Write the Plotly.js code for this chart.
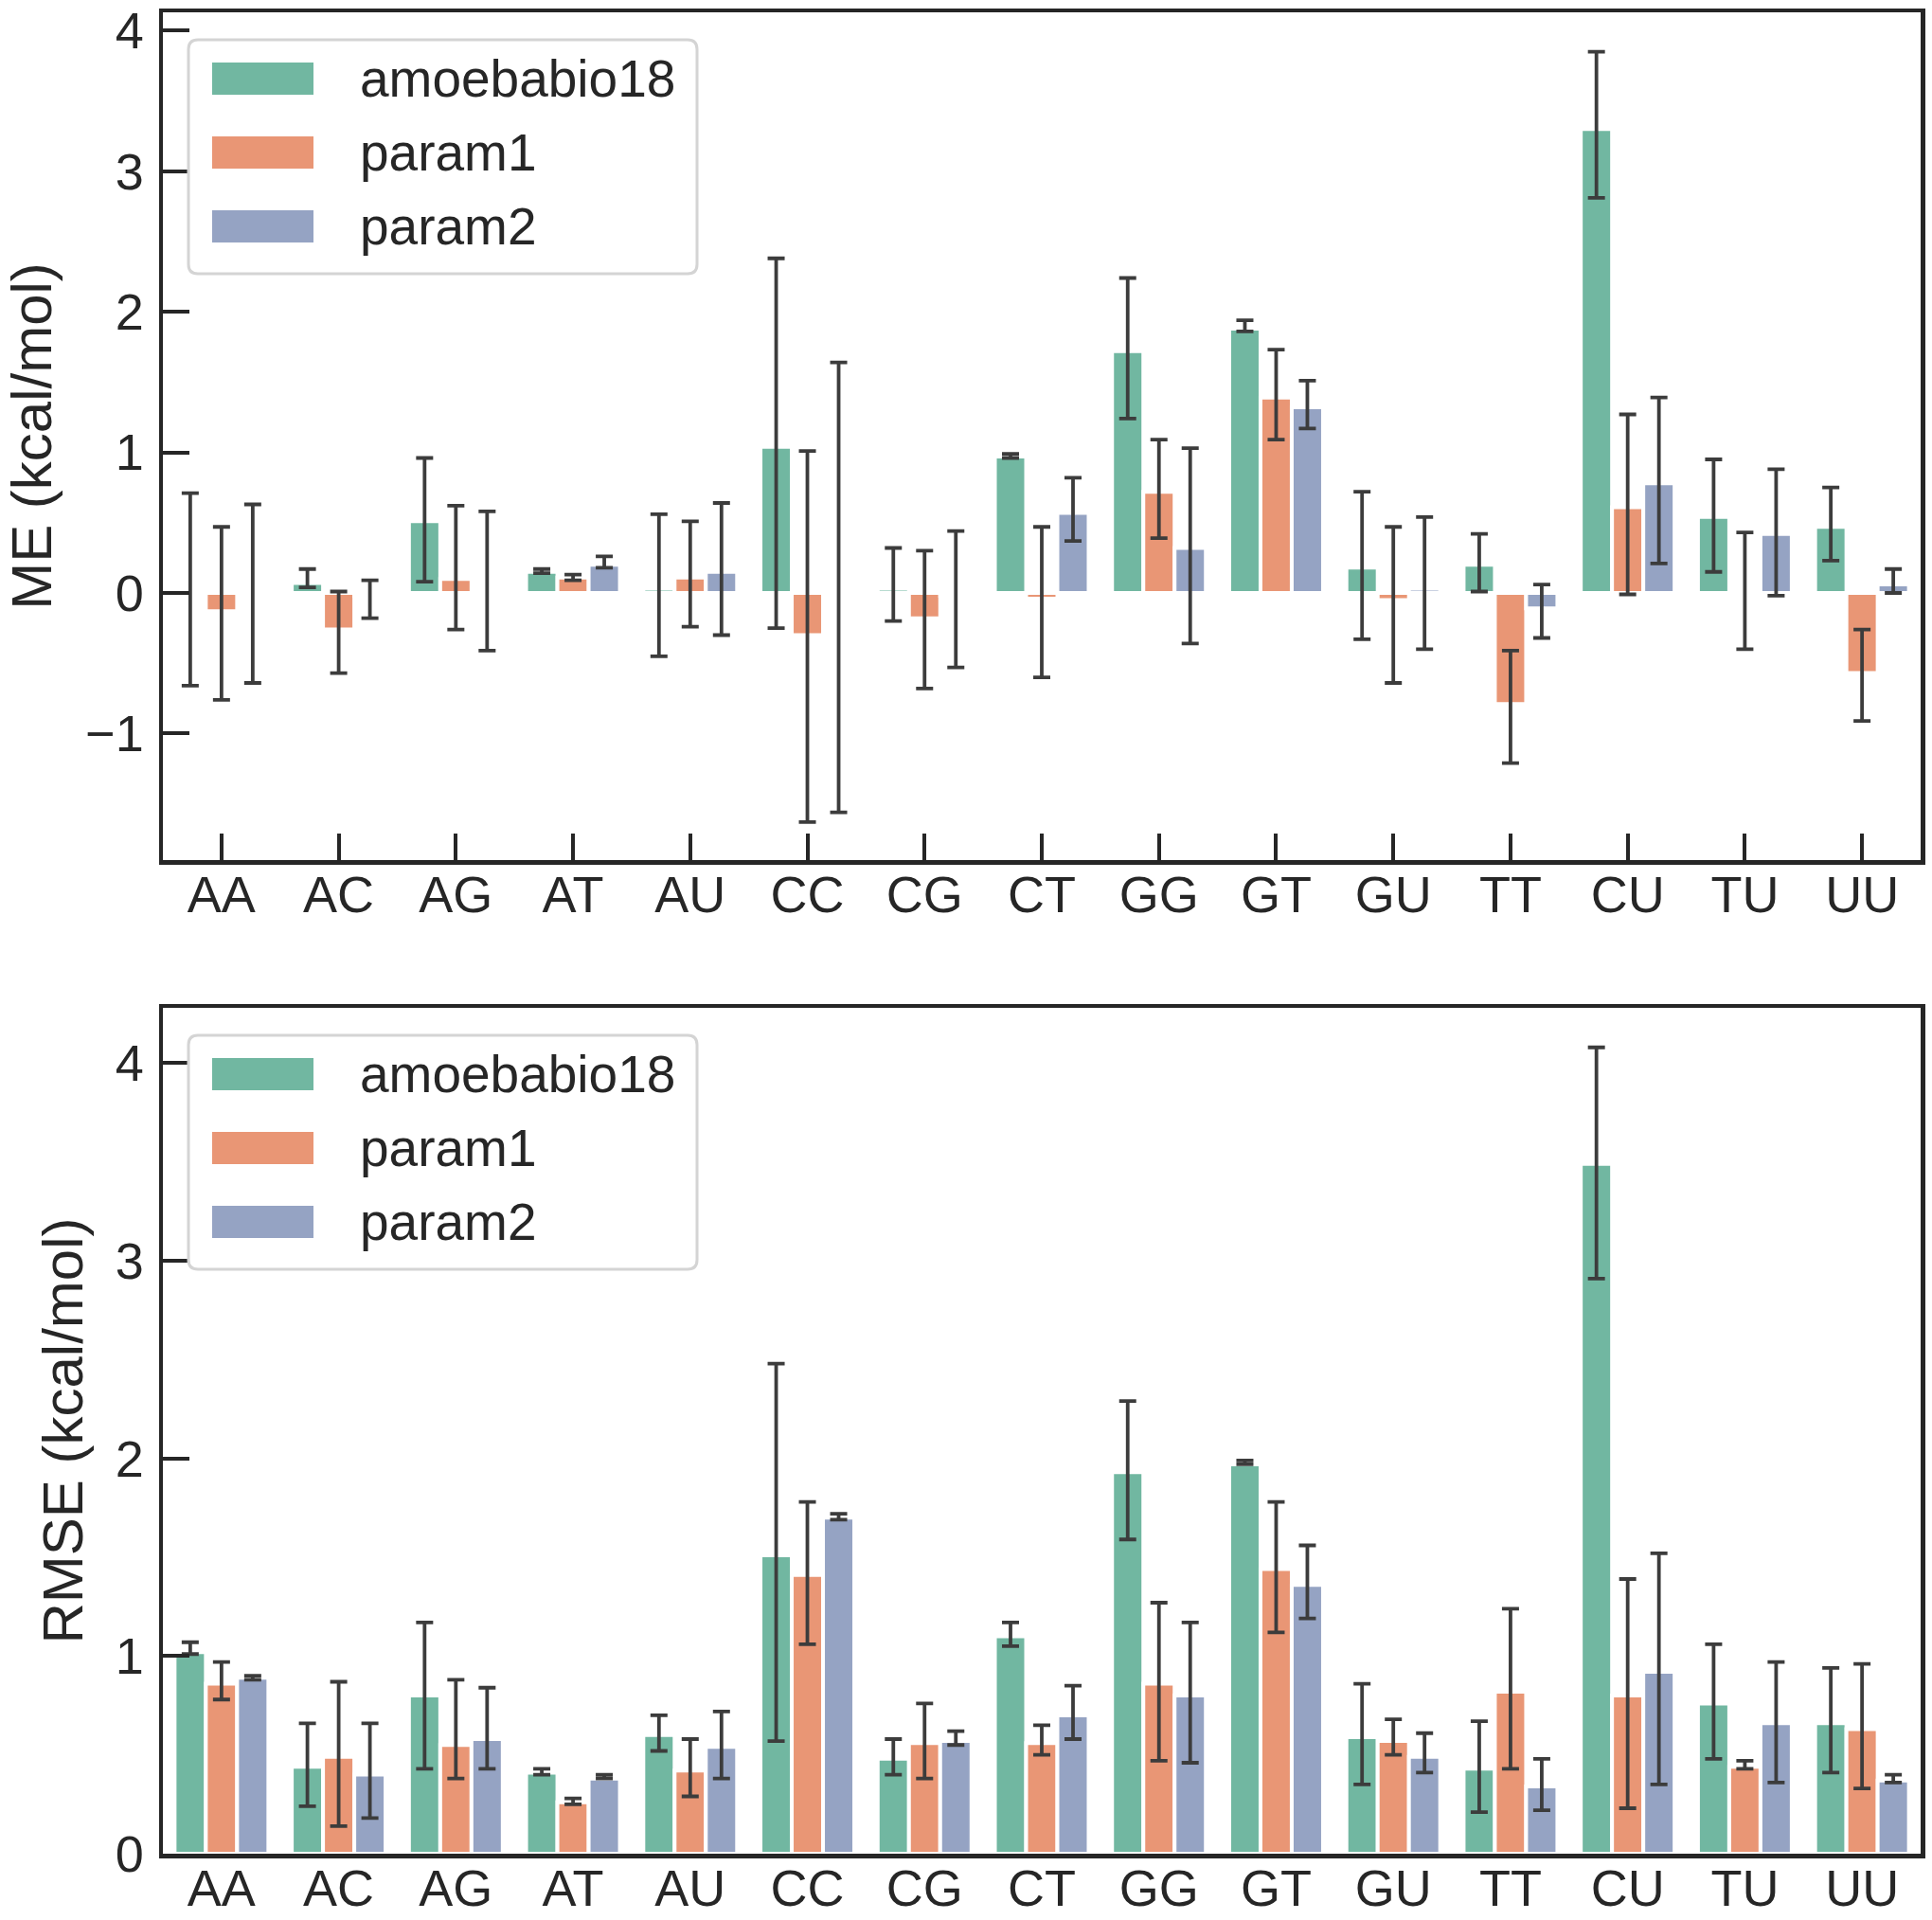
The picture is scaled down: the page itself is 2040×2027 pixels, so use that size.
<!DOCTYPE html>
<html>
<head>
<meta charset="utf-8">
<script src="https://cdn.plot.ly/plotly-3.0.1.min.js"></script>
<style>html,body{margin:0;padding:0;background:#fff;}#chart{width:2040px;height:2027px;}</style>
</head>
<body>
<div id="chart"></div>
<script>
// ---------- data ----------
const categories = ['AA','AC','AG','AT','AU','CC','CG','CT','GG','GT','GU','TT','CU','TU','UU'];
const seriesNames = ['amoebabio18','param1','param2'];

// ME (kcal/mol): bar values and error-bar lower / upper ends
const amoebaME    = [-0.01, 0.07, 0.51, 0.15, 0.03, 1.04, 0.03, 0.97, 1.72, 1.88, 0.18, 0.20, 3.30, 0.54, 0.47];
const amoebaMElo  = [-0.66, 0.04, 0.08, 0.14,-0.45,-0.25,-0.20, 0.96, 1.24, 1.86,-0.33, 0.01, 2.81, 0.15, 0.23];
const amoebaMEhi  = [ 0.71, 0.17, 0.96, 0.17, 0.56, 2.38, 0.32, 0.99, 2.24, 1.94, 0.72, 0.42, 3.85, 0.95, 0.75];
const param1ME    = [-0.13,-0.26, 0.10, 0.11, 0.11,-0.30,-0.18,-0.04, 0.72, 1.39,-0.05,-0.79, 0.61, 0.00,-0.57];
const param1MElo  = [-0.76,-0.57,-0.26, 0.09,-0.24,-1.63,-0.68,-0.60, 0.39, 1.09,-0.64,-1.21,-0.01,-0.40,-0.91];
const param1MEhi  = [ 0.47, 0.01, 0.62, 0.13, 0.51, 1.01, 0.30, 0.47, 1.09, 1.73, 0.47,-0.41, 1.27, 0.43,-0.26];
const param2ME    = [ 0.00,-0.02, 0.00, 0.20, 0.15, 0.02,-0.02, 0.57, 0.32, 1.32, 0.03,-0.11, 0.78, 0.42, 0.06];
const param2MElo  = [-0.64,-0.18,-0.41, 0.18,-0.30,-1.56,-0.53, 0.37,-0.36, 1.17,-0.40,-0.32, 0.21,-0.02, 0.00];
const param2MEhi  = [ 0.63, 0.09, 0.58, 0.26, 0.64, 1.64, 0.44, 0.82, 1.03, 1.51, 0.54, 0.06, 1.39, 0.88, 0.17];

// RMSE (kcal/mol)
const amoebaRMSE   = [1.02, 0.44, 0.80, 0.41, 0.60, 1.51, 0.48, 1.10, 1.93, 1.97, 0.59, 0.43, 3.49, 0.76, 0.66];
const amoebaRMSElo = [1.01, 0.24, 0.43, 0.40, 0.52, 0.57, 0.40, 1.05, 1.59, 1.97, 0.35, 0.21, 2.91, 0.48, 0.41];
const amoebaRMSEhi = [1.07, 0.66, 1.17, 0.43, 0.70, 2.48, 0.58, 1.17, 2.29, 1.99, 0.86, 0.67, 4.08, 1.06, 0.94];
const param1RMSE   = [0.86, 0.49, 0.55, 0.26, 0.42, 1.41, 0.56, 0.56, 0.86, 1.44, 0.57, 0.82, 0.80, 0.44, 0.63];
const param1RMSElo = [0.78, 0.14, 0.38, 0.25, 0.29, 1.06, 0.38, 0.50, 0.47, 1.12, 0.50, 0.43, 0.23, 0.43, 0.33];
const param1RMSEhi = [0.97, 0.87, 0.88, 0.28, 0.58, 1.78, 0.76, 0.65, 1.27, 1.78, 0.68, 1.24, 1.39, 0.47, 0.96];
const param2RMSE   = [0.89, 0.40, 0.58, 0.38, 0.54, 1.70, 0.57, 0.70, 0.80, 1.36, 0.49, 0.34, 0.92, 0.66, 0.37];
const param2RMSElo = [0.88, 0.18, 0.43, 0.38, 0.38, 1.69, 0.55, 0.58, 0.46, 1.19, 0.41, 0.22, 0.35, 0.36, 0.36];
const param2RMSEhi = [0.90, 0.66, 0.84, 0.40, 0.72, 1.72, 0.62, 0.85, 1.17, 1.56, 0.61, 0.48, 1.52, 0.97, 0.40];

const yTicksME = [-1, 0, 1, 2, 3, 4];
const yTicksRMSE = [0, 1, 2, 3, 4];

// ---------- style ----------
const colors = ['#71b7a1', '#e99675', '#95a3c3'];
const errColor = '#3c3c3c';
const ink = '#262626';
const FONT = '"Liberation Sans", Arial, sans-serif';
const W = 2040, H = 2027;
const M = {l: 172, r: 12, t: 13, b: 70};

function makeTrace(name, vals, lo, hi, idx, xa, ya) {
  return {
    type: 'bar', name: name, x: categories, y: vals,
    xaxis: xa, yaxis: ya, showlegend: false,
    marker: {color: colors[idx], line: {color: '#ffffff', width: 4}},
    error_y: {
      type: 'data', symmetric: false,
      array: vals.map((v, i) => hi[i] - v),
      arrayminus: vals.map((v, i) => v - lo[i]),
      color: errColor, thickness: 3.8, width: 9
    }
  };
}

const data = [
  makeTrace(seriesNames[0], amoebaME, amoebaMElo, amoebaMEhi, 0, 'x', 'y'),
  makeTrace(seriesNames[1], param1ME, param1MElo, param1MEhi, 1, 'x', 'y'),
  makeTrace(seriesNames[2], param2ME, param2MElo, param2MEhi, 2, 'x', 'y'),
  makeTrace(seriesNames[0], amoebaRMSE, amoebaRMSElo, amoebaRMSEhi, 0, 'x2', 'y2'),
  makeTrace(seriesNames[1], param1RMSE, param1RMSElo, param1RMSEhi, 1, 'x2', 'y2'),
  makeTrace(seriesNames[2], param2RMSE, param2RMSElo, param2RMSEhi, 2, 'x2', 'y2')
];

// pixel -> paper helpers
const PW = W - M.l - M.r, PH = H - M.t - M.b;
const X = px => (px - M.l) / PW;
const Y = py => (H - M.b - py) / PH;

const topPlot = {top: 13, bottom: 908};
const botPlot = {top: 1064, bottom: 1957};

const shapes = [];
const annotations = [];

function addLegend(plotTop) {
  const x0 = 199, x1 = 736, y0 = plotTop + 29, y1 = plotTop + 276;
  const rx = 10 / PW, ry = 10 / PH;
  const L = X(x0), R = X(x1), T = Y(y0), B = Y(y1);
  const path = `M ${L+rx},${T} L ${R-rx},${T} Q ${R},${T} ${R},${T-ry} L ${R},${B+ry} Q ${R},${B} ${R-rx},${B} ` +
               `L ${L+rx},${B} Q ${L},${B} ${L},${B+ry} L ${L},${T-ry} Q ${L},${T} ${L+rx},${T} Z`;
  shapes.push({type: 'path', xref: 'paper', yref: 'paper', path: path,
    fillcolor: 'rgba(255,255,255,0.85)', line: {color: '#d4d4d4', width: 3}, layer: 'above'});
  const rows = [70, 148, 226];
  rows.forEach((r, i) => {
    const cy = plotTop + r;
    shapes.push({type: 'rect', xref: 'paper', yref: 'paper',
      x0: X(224), x1: X(331), y0: Y(cy - 17), y1: Y(cy + 17),
      fillcolor: colors[i], line: {width: 0}, layer: 'above'});
    annotations.push({xref: 'paper', yref: 'paper', x: X(378), y: Y(cy),
      xanchor: 'left', yanchor: 'middle', showarrow: false, text: seriesNames[i],
      font: {family: FONT, size: 55, color: ink}});
  });
}
addLegend(topPlot.top);
addLegend(botPlot.top);

const axisCommon = {
  showgrid: false, zeroline: false, showline: true, linecolor: ink, linewidth: 4.5,
  mirror: true, tickfont: {family: FONT, size: 54, color: ink}
};

const layout = {
  width: W, height: H, margin: M,
  paper_bgcolor: '#ffffff', plot_bgcolor: '#ffffff',
  font: {family: FONT, color: ink},
  barmode: 'group', bargap: 0.2, bargroupgap: 0,
  showlegend: false,
  xaxis: Object.assign({}, axisCommon, {
    domain: [0, 1], anchor: 'y', type: 'category', range: [-0.5, 14.5],
    ticks: 'inside', ticklen: 28, tickwidth: 4, tickcolor: ink, ticklabelstandoff: -14
  }),
  yaxis: Object.assign({}, axisCommon, {
    domain: [Y(topPlot.bottom), Y(topPlot.top)], anchor: 'x', range: [-1.90, 4.13],
    tickvals: yTicksME, ticks: 'inside', ticklen: 28, tickwidth: 4, tickcolor: ink,
    ticklabelstandoff: 5,
    title: {text: 'ME (kcal/mol)', font: {family: FONT, size: 60, color: ink}, standoff: 27}
  }),
  xaxis2: Object.assign({}, axisCommon, {
    domain: [0, 1], anchor: 'y2', type: 'category', range: [-0.5, 14.5],
    ticks: '', ticklabelstandoff: -14
  }),
  yaxis2: Object.assign({}, axisCommon, {
    domain: [Y(botPlot.bottom), Y(botPlot.top)], anchor: 'x2', range: [0, 4.28],
    tickvals: yTicksRMSE, ticks: 'inside', ticklen: 28, tickwidth: 4, tickcolor: ink,
    ticklabelstandoff: 5,
    title: {text: 'RMSE (kcal/mol)', font: {family: FONT, size: 60, color: ink}, standoff: 16}
  }),
  shapes: shapes,
  annotations: annotations
};

Plotly.newPlot('chart', data, layout, {staticPlot: true, displayModeBar: false});
</script>
</body>
</html>
